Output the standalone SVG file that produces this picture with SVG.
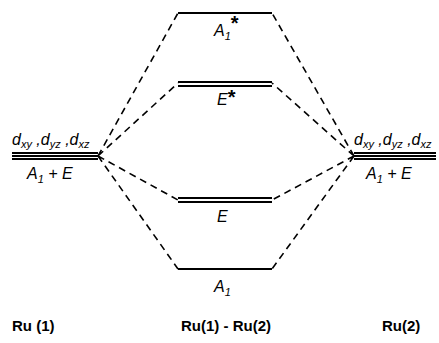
<svg xmlns="http://www.w3.org/2000/svg" width="439" height="343" viewBox="0 0 439 343">
<style>
.lvl{stroke:#000;stroke-width:1.8;fill:none}
.dash{stroke:#000;stroke-width:1.6;fill:none;stroke-dasharray:7,5}
.it{font-family:"Liberation Sans",Arial,sans-serif;font-style:italic;font-size:16px;fill:#000}
.sub{font-size:11px}
.star{font-size:20px;font-style:normal;font-weight:bold}
.ru{font-family:"Liberation Sans",Arial,sans-serif;font-weight:bold;font-size:15px;fill:#000}
</style>
<rect width="439" height="343" fill="#fff"/>
<g id="connectors">
<path class="dash" d="M98,156 L178,13 M98,156 L178,83 M98,156 L178,200 M98,156 L178,269"/>
<path class="dash" d="M354,156 L272,13 M354,156 L272,83 M354,156 L272,200 M354,156 L272,269"/>
</g>
<g id="ru1">
<path class="lvl" d="M12,153 H98 M12,156 H98 M12,159 H98"/>
<text class="it" x="12" y="145">d<tspan class="sub" dy="3">xy</tspan><tspan dy="-3"> ,d</tspan><tspan class="sub" dy="3">yz</tspan><tspan dy="-3"> ,d</tspan><tspan class="sub" dy="3">xz</tspan></text>
<text class="it" x="27" y="179">A<tspan class="sub" dy="4">1</tspan><tspan dy="-4"> + E</tspan></text>
<text class="ru" x="12" y="331">Ru (1)</text>
</g>
<g id="ru2">
<path class="lvl" d="M354,153 H436 M354,156 H436 M354,159 H436"/>
<text class="it" x="354" y="145">d<tspan class="sub" dy="3">xy</tspan><tspan dy="-3"> ,d</tspan><tspan class="sub" dy="3">yz</tspan><tspan dy="-3"> ,d</tspan><tspan class="sub" dy="3">xz</tspan></text>
<text class="it" x="366" y="179">A<tspan class="sub" dy="4">1</tspan><tspan dy="-4"> + E</tspan></text>
<text class="ru" x="382" y="331">Ru(2)</text>
</g>
<g id="a1star">
<path class="lvl" d="M178,13 H272"/>
<text class="it" x="214" y="36">A<tspan class="sub" dy="4">1</tspan><tspan class="star" dy="-10">*</tspan></text>
</g>
<g id="estar">
<path class="lvl" d="M178,82 H272 M178,86 H272"/>
<text class="it" x="217" y="105">E<tspan class="star" dy="-1">*</tspan></text>
</g>
<g id="e">
<path class="lvl" d="M178,198 H272 M178,202 H272"/>
<text class="it" x="217" y="222">E</text>
</g>
<g id="a1">
<path class="lvl" d="M178,269 H272"/>
<text class="it" x="214" y="292">A<tspan class="sub" dy="4">1</tspan></text>
</g>
<g id="center">
<text class="ru" x="226" y="331" text-anchor="middle">Ru(1) - Ru(2)</text>
</g>
</svg>
